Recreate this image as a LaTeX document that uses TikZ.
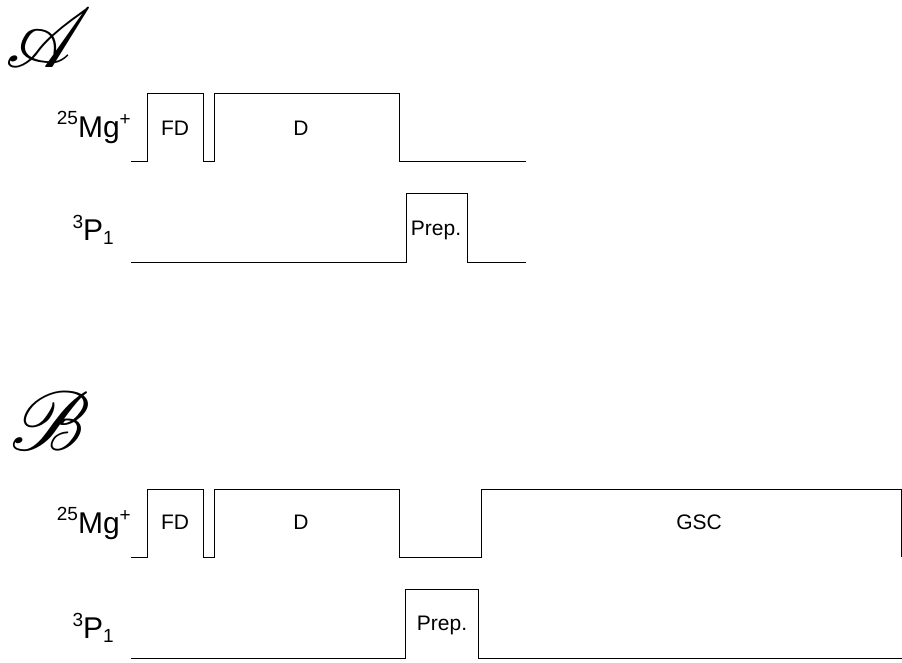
\documentclass[tikz,border=0pt]{standalone}
\usepackage{fontspec}
\setmainfont{Liberation Sans}
\font\scrletra=rsfs10 at 84pt

\tikzset{
  pulso/.style={line width=1pt, line join=miter, color=black},
  etiq/.style={inner sep=0pt, anchor=base, font=\fontsize{21}{21}\selectfont},
  canal/.style={inner sep=0pt, anchor=base east, font=\fontsize{30}{30}\selectfont},
  letra/.style={inner sep=0pt, anchor=north west},
}
\newcommand{\chico}[1]{{\fontsize{19}{19}\selectfont #1}}
\newcommand{\ionMg}{\raisebox{13pt}{\chico{25}}Mg\raisebox{12pt}{\chico{+}}}
\newcommand{\nivelP}{\raisebox{12pt}{\chico{3}}P\raisebox{-4pt}{\chico{1}}}

\begin{document}
\begin{tikzpicture}[x=1pt, y=-1pt]
        % Marco de la figura
        \useasboundingbox (0,0) rectangle (902,662);

        % Panel A
        \node[letra] (letraA) at (5,8) {\scrletra A};
        \node[canal] (mgA) at (131,137) {\ionMg};
        \node[canal] (pA) at (114,240) {\nivelP};
        \draw[pulso] (131,161) -- (147,161) -- (147,93) -- (203,93) -- (203,161)
                -- (214,161) -- (214,93) -- (399,93) -- (399,161) -- (526,161);
        \draw[pulso] (131,262) -- (406,262) -- (406,193) -- (467,193) -- (467,262) -- (526,262);
        \node[etiq] (fdA) at (175,135.5) {FD};
        \node[etiq] (dA) at (301,135.5) {D};
        \node[etiq] (prepA) at (436,235.5) {Prep.};

        % Panel B
        \node[letra] (letraB) at (10,391) {\scrletra B};
        \node[canal] (mgB) at (131,533) {\ionMg};
        \node[canal] (pB) at (114,638) {\nivelP};
        \draw[pulso] (131,557) -- (147,557) -- (147,489) -- (203,489) -- (203,557)
                -- (214,557) -- (214,489) -- (399,489) -- (399,557) -- (481,557)
                -- (481,489) -- (901,489) -- (901,557);
        \draw[pulso] (131,658) -- (405,658) -- (405,589) -- (478,589) -- (478,658) -- (902,658);
        \node[etiq] (fdB) at (175,529.5) {FD};
        \node[etiq] (dB) at (301,529.5) {D};
        \node[etiq] (gscB) at (699,529.5) {GSC};
        \node[etiq] (prepB) at (442,630.5) {Prep.};

    \end{tikzpicture}
\end{document}
